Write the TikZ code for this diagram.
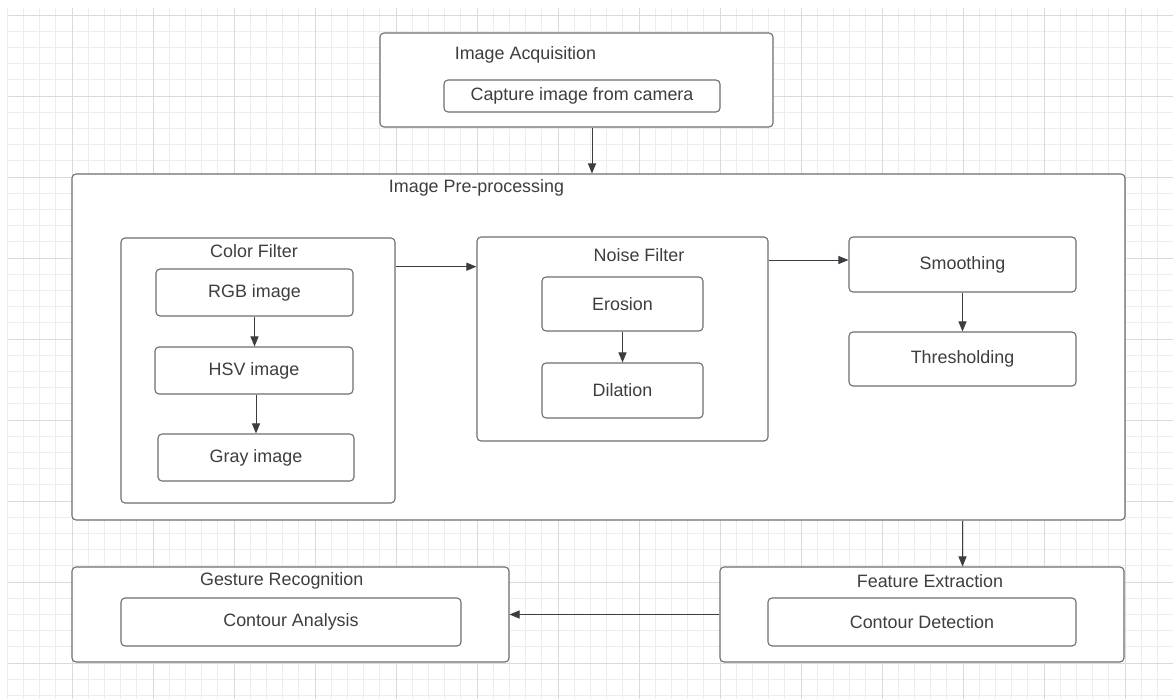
\documentclass[tikz,border=0pt]{standalone}
\usepackage{fontspec}
\setmainfont{Liberation Sans}
\usetikzlibrary{arrows.meta,calc}
\definecolor{gridminor}{HTML}{EDEDED}
\definecolor{gridmajor}{HTML}{DADADA}
\definecolor{boxline}{HTML}{6E6E6E}
\definecolor{arrline}{HTML}{3A3D42}
\definecolor{txt}{HTML}{3E3E3E}
\tikzset{
  lbl/.style={font=\fontsize{17.9}{21}\selectfont, text=txt, inner sep=0pt},
  box/.style={draw=boxline, line width=1.1pt, rounded corners=4pt, fill=white, inner sep=0pt},
  arr/.style={draw=arrline, line width=1pt, -{Triangle[length=10pt,width=8pt]}},
  gmin/.style={draw=gridminor, line width=0.8pt},
  gmaj/.style={draw=gridmajor, line width=0.9pt},
}
\begin{document}
\begin{tikzpicture}[x=1pt,y=-1pt]
\useasboundingbox (0,0) rectangle (1173,699);
\fill[white] (0,0) rectangle (1173,699);
% grid
\foreach \i in {0,...,71} {
  \pgfmathsetmacro\gx{7.2+16.2*\i}
  \draw[gmin] (\gx,8) -- (\gx,699);
}
\foreach \i in {0,...,42} {
  \pgfmathsetmacro\gy{15+16.2*\i}
  \draw[gmin] (8,\gy) -- (1173,\gy);
}
\foreach \i in {4,9,...,69} {
  \pgfmathsetmacro\gx{7.2+16.2*\i}
  \draw[gmaj] (\gx,8) -- (\gx,699);
}
\foreach \i in {0,5,...,40} {
  \pgfmathsetmacro\gy{15+16.2*\i}
  \draw[gmaj] (8,\gy) -- (1173,\gy);
}

% Image Acquisition
\node[box, minimum width=393pt, minimum height=94pt] (acq) at (576.5,80) {};
\node[lbl] (acqT) at (525.5,55) {Image Acquisition};
\node[box, lbl, minimum width=276pt, minimum height=32pt] (cap) at (582,96) {Capture image from camera};

% Image Pre-processing
\node[box, minimum width=1053pt, minimum height=346pt] (pre) at (598.5,347) {};
\node[lbl] (preT) at (476.5,188) {Image Pre-processing};

% Color Filter
\node[box, minimum width=274pt, minimum height=265pt] (cf) at (258,370.5) {};
\node[lbl] (cfT) at (254,251) {Color Filter};
\node[box, lbl, minimum width=197pt, minimum height=47pt] (rgb) at (254.5,292.5) {RGB image};
\node[box, lbl, minimum width=198pt, minimum height=47pt] (hsv) at (254,370.5) {HSV image};
\node[box, lbl, minimum width=196pt, minimum height=47pt] (gray) at (256,457.5) {Gray image};

% Noise Filter
\node[box, minimum width=291pt, minimum height=204pt] (nf) at (622.5,339) {};
\node[lbl] (nfT) at (639,255) {Noise Filter};
\node[box, lbl, minimum width=161pt, minimum height=54pt] (ero) at (622.5,304) {Erosion};
\node[box, lbl, minimum width=161pt, minimum height=55pt] (dil) at (622.5,390.5) {Dilation};

% Smoothing / Thresholding
\node[box, lbl, minimum width=227pt, minimum height=55pt] (sm) at (962.5,264.5) {Smoothing};
\node[box, lbl, minimum width=227pt, minimum height=54pt] (th) at (962.5,359) {Thresholding};

% Feature Extraction
\node[box, minimum width=404pt, minimum height=95pt] (fe) at (922,614.5) {};
\node[lbl] (feT) at (930,581) {Feature Extraction};
\node[box, lbl, minimum width=308pt, minimum height=48pt] (cd) at (922,622) {Contour Detection};

% Gesture Recognition
\node[box, minimum width=437pt, minimum height=95pt] (gr) at (290.5,614.5) {};
\node[lbl] (grT) at (281.7,581) {Gesture Recognition};
\node[box, lbl, minimum width=340pt, minimum height=48pt] (ca) at (291,622) {Contour Analysis};

% connectors
\coordinate (c1) at (0,266.7);
\coordinate (c2) at (0,260);
\coordinate (c3) at (592,0);
\draw[arr] (acq.south -| c3) -- (pre.north -| c3);
\draw[arr] (rgb.south) -- (rgb.south |- hsv.north);
\draw[arr] ([xshift=2pt]hsv.south) -- ([xshift=2pt]hsv.south |- gray.north);
\draw[arr] (cf.east |- c1) -- (nf.west |- c1);
\draw[arr] (ero.south) -- (dil.north);
\draw[arr] (nf.east |- c2) -- (sm.west |- c2);
\draw[arr] (sm.south) -- (th.north);
\draw[arr] (pre.south -| th.south) -- (fe.north -| th.south);
\draw[arr] (fe.west) -- (gr.east);
\end{tikzpicture}
\end{document}
